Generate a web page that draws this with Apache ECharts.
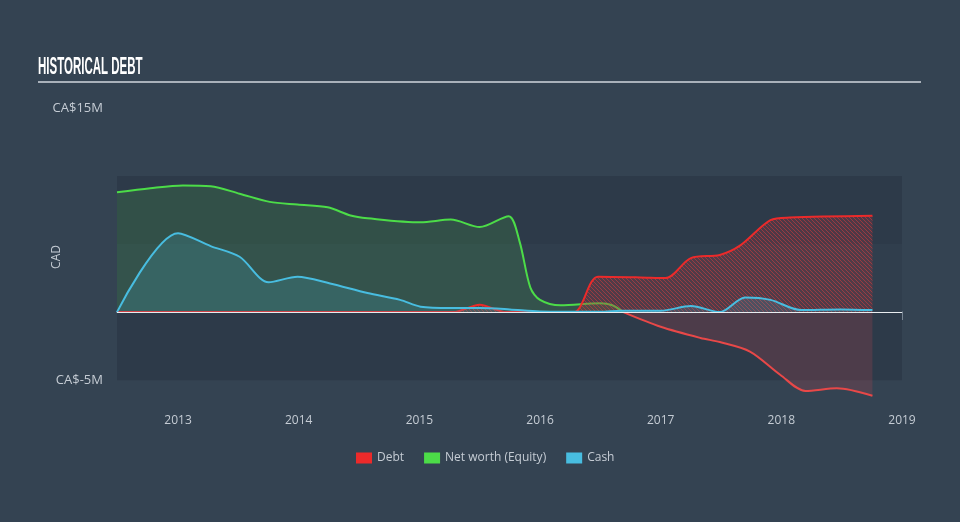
<!DOCTYPE html>
<html><head><meta charset="utf-8">
<script src="https://cdn.jsdelivr.net/npm/echarts@6/dist/echarts.min.js"></script>
<style>html,body{margin:0;padding:0;background:#344352;}#c{width:960px;height:522px;}</style>
</head><body><div id="c"></div>
<script>
// ---- data (years as decimal, values in CA$ millions) ----
const equityYears = [2012.494, 2012.77, 2013.04, 2013.27, 2013.51, 2013.76, 2013.99, 2014.24, 2014.43, 2014.57, 2015.01, 2015.26, 2015.50, 2015.74, 2015.83, 2015.92, 2016.0, 2016.17, 2016.5, 2016.6, 2016.69];
const equityValues = [8.8, 9.1, 9.3, 9.25, 8.7, 8.1, 7.9, 7.7, 7.1, 6.9, 6.6, 6.8, 6.25, 7.05, 5.2, 1.8, 0.9, 0.5, 0.65, 0.5, 0.0];
const negEquityYears = [2016.69, 2017.0, 2017.33, 2017.49, 2017.74, 2017.99, 2018.2, 2018.46, 2018.755];
const negEquityValues = [0.0, -1.08, -1.9, -2.2, -2.9, -4.6, -5.8, -5.6, -6.15];
const cashYears = [2012.494, 2013.0, 2013.27, 2013.51, 2013.75, 2013.99, 2014.26, 2014.57, 2014.84, 2015.01, 2015.26, 2015.5, 2015.75, 2016.0, 2016.5, 2016.67, 2017.0, 2017.25, 2017.49, 2017.7, 2017.91, 2018.16, 2018.49, 2018.755];
const cashValues = [0.0, 5.8, 4.85, 4.07, 2.2, 2.6, 2.1, 1.4, 0.9, 0.4, 0.3, 0.3, 0.2, 0.05, 0.02, 0.1, 0.1, 0.45, 0.0, 1.08, 0.9, 0.15, 0.2, 0.15];
const debtYears = [2012.494, 2013.0, 2014.0, 2015.0, 2015.28, 2015.5, 2015.72, 2016.0, 2016.28, 2016.48, 2016.83, 2017.04, 2017.25, 2017.49, 2017.66, 2017.91, 2018.07, 2018.755];
const debtValues = [0, 0, 0, 0, 0, 0.55, 0, 0, 0, 2.6, 2.55, 2.5, 3.97, 4.2, 4.9, 6.76, 6.95, 7.08];
const yTickLabels = [15, -5];
const xTickLabels = [2013, 2014, 2015, 2016, 2017, 2018, 2019];

const pair = (xs, ys) => xs.map((x, i) => [x, ys[i]]);

function makeHatch() {
  const s = 4;
  const c = document.createElement('canvas');
  c.width = s; c.height = s;
  const ctx = c.getContext('2d');
  ctx.fillStyle = 'rgba(150,55,65,0.45)';
  ctx.fillRect(0, 0, s, s);
  ctx.strokeStyle = 'rgba(225,60,60,0.8)';
  ctx.lineWidth = 1;
  ctx.beginPath();
  ctx.moveTo(-1, -1); ctx.lineTo(s + 1, s + 1);
  ctx.moveTo(-1, s - 1); ctx.lineTo(1, s + 1);
  ctx.moveTo(s - 1, -1); ctx.lineTo(s + 1, 1);
  ctx.stroke();
  return c;
}

const chart = echarts.init(document.getElementById('c'));
const txt = '#c5ccd4';
const SM = 0.3;
chart.setOption({
  backgroundColor: '#344352',
  animation: false,
  textStyle: { fontFamily: 'Open Sans, sans-serif' },
  graphic: [
    { type: 'text', x: 38, y: 56, scaleX: 0.5, style: { text: 'HISTORICAL DEBT', fill: '#ffffff', font: 'bold 23px "Liberation Sans", sans-serif' } },
    { type: 'rect', shape: { x: 38, y: 81, width: 883, height: 2 }, style: { fill: '#a9b1ba' } }
  ],
  grid: { left: 117, right: 58, top: 108, bottom: 116 },
  legend: {
    left: 351, top: 447, itemWidth: 16, itemHeight: 11, itemGap: 20, icon: 'rect',
    data: ['Debt', 'Net worth (Equity)', 'Cash'],
    textStyle: { color: txt, fontSize: 12 }
  },
  xAxis: {
    type: 'value', min: 2012.494, max: 2019,
    axisLine: { show: true, lineStyle: { color: '#8d9aa8', width: 1.5 } },
    axisTick: { show: true, customValues: xTickLabels, length: 8, lineStyle: { color: '#8d9aa8', width: 1.5 } },
    axisLabel: { customValues: xTickLabels, color: txt, fontSize: 12, margin: 9, formatter: v => String(Math.round(v)) },
    splitLine: { show: false }
  },
  yAxis: {
    type: 'value', min: -6.9, max: 15,
    name: 'CAD', nameLocation: 'middle', nameGap: 54, nameRotate: 90, nameMoveOverlap: false,
    nameTextStyle: { color: txt, fontSize: 12 },
    axisLine: { show: false }, axisTick: { show: false },
    axisLabel: { customValues: yTickLabels, color: txt, fontSize: 13, margin: 14, formatter: v => 'CA$' + v + 'M' },
    splitLine: { show: false }
  },
  series: [
    {
      type: 'line', name: 'bands', data: [], silent: true, z: 0,
      markArea: {
        silent: true,
        data: [
          [{ yAxis: 10, itemStyle: { color: '#2d3a49' } }, { yAxis: 5 }],
          [{ yAxis: 5, itemStyle: { color: '#303e4d' } }, { yAxis: 0 }],
          [{ yAxis: 0, itemStyle: { color: '#2d3a49' } }, { yAxis: -5 }]
        ]
      },
      markLine: {
        silent: true, symbol: 'none', label: { show: false },
        lineStyle: { color: '#e8ecef', width: 1.2, type: 'solid' },
        data: [{ yAxis: 0 }]
      }
    },
    {
      type: 'line', name: 'Net worth (Equity)', data: pair(equityYears, equityValues),
      smooth: SM, showSymbol: false, z: 2,
      lineStyle: { color: '#4cdc48', width: 2 }, itemStyle: { color: '#4cdc48' },
      areaStyle: { color: 'rgba(76,200,72,0.22)' }
    },
    {
      type: 'line', name: 'negEquity', data: pair(negEquityYears, negEquityValues),
      smooth: SM, showSymbol: false, z: 2,
      lineStyle: { color: '#e84848', width: 2 }, itemStyle: { color: '#e84848' },
      areaStyle: { color: 'rgba(200,70,80,0.3)' }
    },
    {
      type: 'line', name: 'Debt', data: pair(debtYears, debtValues),
      smooth: SM, showSymbol: false, z: 3,
      lineStyle: { color: '#ec2a2a', width: 2 }, itemStyle: { color: '#ec2a2a' },
      areaStyle: { color: { image: makeHatch(), repeat: 'repeat' } }
    },
    {
      type: 'line', name: 'Cash', data: pair(cashYears, cashValues),
      smooth: SM, showSymbol: false, z: 4,
      lineStyle: { color: '#48bde0', width: 2 }, itemStyle: { color: '#48bde0' },
      areaStyle: { color: 'rgba(72,180,210,0.25)' }
    }
  ]
});
</script></body></html>
